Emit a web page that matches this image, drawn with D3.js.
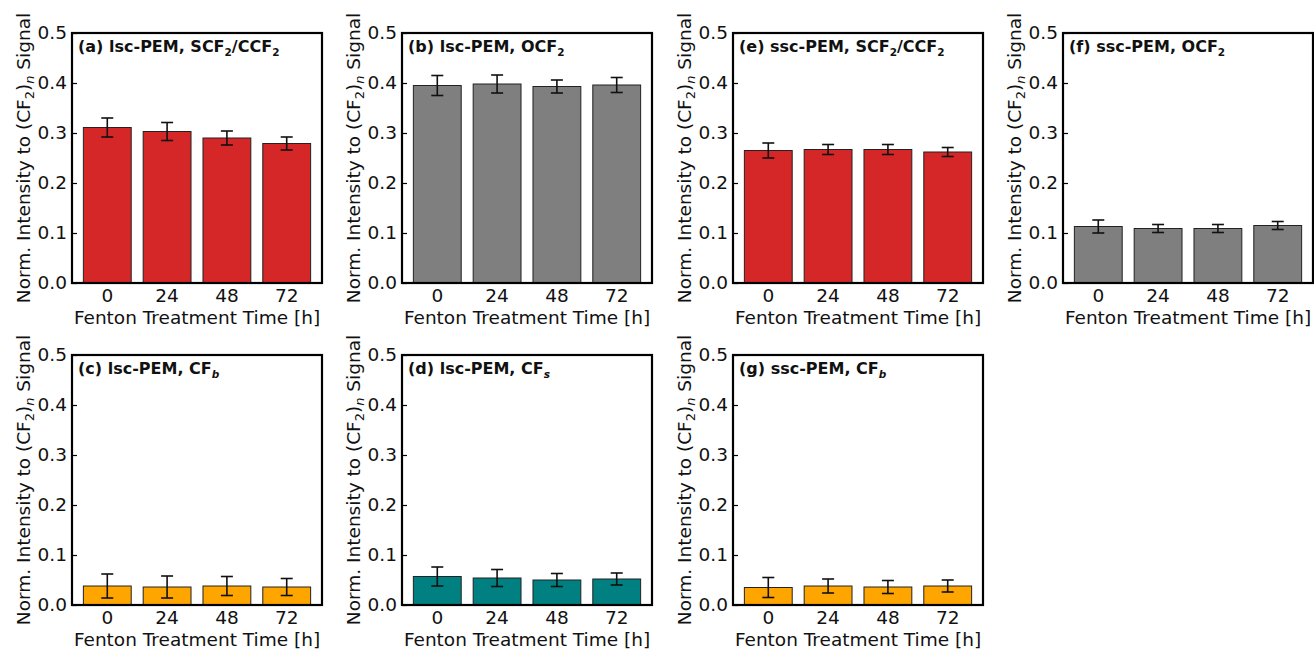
<!DOCTYPE html>
<html>
<head>
<meta charset="utf-8">
<script src="https://cdn.jsdelivr.net/npm/d3@7"></script>
<style>
  body { margin: 0; background: #fff; }
  svg text { font-family: "DejaVu Sans", sans-serif; }
</style>
</head>
<body>
<svg id="chart" width="1314" height="651"></svg>
<script>
// Fenton treatment times (x categories)
const times = ["0", "24", "48", "72"];
const yTicks = [0, 0.1, 0.2, 0.3, 0.4, 0.5];

// normalized intensities and their error bars
const lscScf2 = [0.311, 0.303, 0.290, 0.279];
const lscScf2Err = [0.019, 0.018, 0.014, 0.013];
const lscOcf2 = [0.395, 0.398, 0.393, 0.396];
const lscOcf2Err = [0.020, 0.018, 0.013, 0.015];
const lscCfb = [0.038, 0.036, 0.038, 0.036];
const lscCfbErr = [0.024, 0.022, 0.019, 0.017];
const lscCfs = [0.057, 0.054, 0.050, 0.052];
const lscCfsErr = [0.019, 0.017, 0.013, 0.012];
const sscScf2 = [0.265, 0.267, 0.267, 0.262];
const sscScf2Err = [0.015, 0.010, 0.010, 0.009];
const sscOcf2 = [0.113, 0.109, 0.109, 0.115];
const sscOcf2Err = [0.013, 0.008, 0.008, 0.008];
const sscCfb = [0.035, 0.038, 0.036, 0.038];
const sscCfbErr = [0.020, 0.014, 0.013, 0.012];

const RED = "#d62728", GRAY = "#7f7f7f", ORANGE = "#ffa500", TEAL = "#008080";

// title pieces: plain text, or {sub} for subscripts (italic when needed)
const panels = [
  { col: 0, row: 0, vals: lscScf2, errs: lscScf2Err, color: RED,
    title: ["(a) lsc-PEM, SCF", { sub: "2" }, "/CCF", { sub: "2" }] },
  { col: 1, row: 0, vals: lscOcf2, errs: lscOcf2Err, color: GRAY,
    title: ["(b) lsc-PEM, OCF", { sub: "2" }] },
  { col: 0, row: 1, vals: lscCfb, errs: lscCfbErr, color: ORANGE,
    title: ["(c) lsc-PEM, CF", { sub: "b", it: true }] },
  { col: 1, row: 1, vals: lscCfs, errs: lscCfsErr, color: TEAL,
    title: ["(d) lsc-PEM, CF", { sub: "s", it: true }] },
  { col: 2, row: 0, vals: sscScf2, errs: sscScf2Err, color: RED,
    title: ["(e) ssc-PEM, SCF", { sub: "2" }, "/CCF", { sub: "2" }] },
  { col: 3, row: 0, vals: sscOcf2, errs: sscOcf2Err, color: GRAY,
    title: ["(f) ssc-PEM, OCF", { sub: "2" }] },
  { col: 2, row: 1, vals: sscCfb, errs: sscCfbErr, color: ORANGE,
    title: ["(g) ssc-PEM, CF", { sub: "b", it: true }] }
];

const svg = d3.select("#chart");
const colX = [72, 402, 733, 1063];
const rowY = [33, 355];
const W = 250, H = 250;
const FS = 18.5;

const x = d3.scaleBand().domain(times).range([0, W]).paddingInner(0.2).paddingOuter(0.19);
const y = d3.scaleLinear().domain([0, 0.5]).range([H, 0]);

panels.forEach(p => {
  const g = svg.append("g").attr("transform", `translate(${colX[p.col]},${rowY[p.row]})`);
  const rows = times.map((t, i) => ({ t, v: p.vals[i], e: p.errs[i] }));

  g.selectAll("rect.bar")
    .data(rows)
    .enter()
    .append("rect")
    .attr("class", "bar")
    .attr("x", d => x(d.t))
    .attr("width", x.bandwidth())
    .attr("y", d => y(d.v))
    .attr("height", d => y(0) - y(d.v))
    .attr("fill", p.color)
    .attr("stroke", "#222")
    .attr("stroke-width", 1);

  // error bars
  const eb = g.selectAll("g.err").data(rows).enter().append("g")
    .attr("transform", d => `translate(${x(d.t) + x.bandwidth() / 2},0)`)
    .attr("stroke", "#111")
    .attr("stroke-width", 1.6);
  eb.append("line").attr("y1", d => y(d.v - d.e)).attr("y2", d => y(d.v + d.e));
  eb.append("line").attr("x1", -6).attr("x2", 6).attr("y1", d => y(d.v + d.e)).attr("y2", d => y(d.v + d.e));
  eb.append("line").attr("x1", -6).attr("x2", 6).attr("y1", d => y(d.v - d.e)).attr("y2", d => y(d.v - d.e));

  // y axis, ticks pointing inward
  const ya = g.append("g")
    .call(d3.axisLeft(y).tickValues(yTicks).tickFormat(d3.format(".1f")).tickSizeInner(-5).tickSizeOuter(0).tickPadding(5));
  ya.select(".domain").remove();
  ya.selectAll("line").attr("stroke", "#000").attr("stroke-width", 1.2);
  ya.selectAll("text").attr("font-size", FS).attr("fill", "#111").attr("font-family", "DejaVu Sans");

  const xa = g.append("g").attr("transform", `translate(0,${H})`)
    .call(d3.axisBottom(x).tickSize(0).tickPadding(6));
  xa.select(".domain").remove();
  xa.selectAll("text").attr("font-size", FS).attr("fill", "#111").attr("font-family", "DejaVu Sans");

  // frame
  g.append("rect").attr("width", W).attr("height", H)
    .attr("fill", "none").attr("stroke", "#000").attr("stroke-width", 2.2);

  // x label
  g.append("text")
    .attr("x", W / 2).attr("y", H + 41)
    .attr("text-anchor", "middle").attr("font-size", FS).attr("fill", "#111")
    .text("Fenton Treatment Time [h]");

  // y label with (CF2)n
  const yl = g.append("text")
    .attr("transform", `translate(-42,${H / 2}) rotate(-90)`)
    .attr("text-anchor", "middle").attr("font-size", FS).attr("fill", "#111");
  yl.append("tspan").text("Norm. Intensity to (CF");
  yl.append("tspan").attr("dy", 4).attr("font-size", 13).text("2");
  yl.append("tspan").attr("dy", -4).text(")");
  yl.append("tspan").attr("dy", 4).attr("font-size", 13).attr("font-style", "italic").text("n");
  yl.append("tspan").attr("dy", -4).text(" Signal");

  // panel title
  const tt = g.append("text")
    .attr("x", 6).attr("y", 19)
    .attr("font-family", "Open Sans").attr("font-weight", "bold")
    .attr("font-size", 16).attr("fill", "#111");
  let shift = 0;
  p.title.forEach(s => {
    if (typeof s === "string") {
      tt.append("tspan").attr("dy", -shift).text(s);
      shift = 0;
    } else {
      tt.append("tspan").attr("dy", 4).attr("font-size", 10.5)
        .attr("font-style", s.it ? "italic" : "normal").text(s.sub);
      shift = 4;
    }
  });
});
</script>
</body>
</html>
